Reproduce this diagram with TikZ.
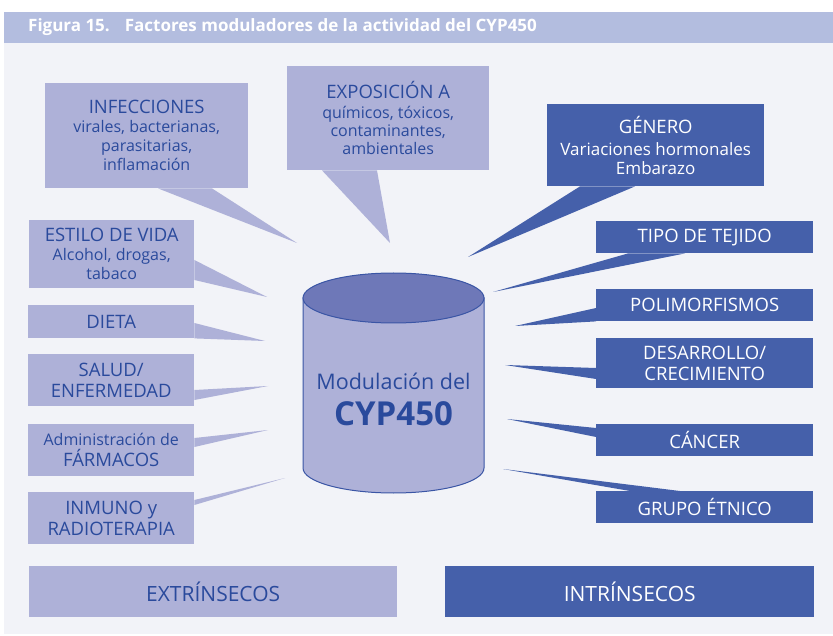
\documentclass[tikz,border=0pt]{standalone}
\usepackage{fontspec}
\setmainfont{Open Sans}
\usetikzlibrary{calc}
\definecolor{lightbox}{HTML}{AEB1D8}
\definecolor{darkbox}{HTML}{4560AA}
\definecolor{txtblue}{HTML}{2A4A9C}
\definecolor{panel}{HTML}{F2F3F8}
\definecolor{header}{HTML}{B3BDDF}
\definecolor{cyltop}{HTML}{6E78B8}
\definecolor{cylline}{HTML}{3A55A5}
\newcommand{\hd}{\fontsize{18.5}{19}\selectfont}
\newcommand{\sbt}{\fontsize{16}{19}\selectfont}
\newcommand{\sbr}{\fontsize{17}{22}\selectfont}
\begin{document}
\begin{tikzpicture}[x=1pt,y=-1pt,
  lbox/.style={fill=lightbox, text=txtblue, align=center, inner sep=0pt, anchor=north west, font=\hd},
  dbox/.style={fill=darkbox, text=white, align=center, inner sep=0pt, anchor=north west, font=\hd},
  lptr/.style={fill=lightbox},
  dptr/.style={fill=darkbox}]
\useasboundingbox (0,0) rectangle (833,636);
\fill[white] (0,0) rectangle (833,636);
\fill[panel] (4,43) rectangle (833,634);
\fill[header] (4,12) rectangle (833,43);
\node[anchor=west, text=white, font=\bfseries\fontsize{17}{19}\selectfont, inner sep=0pt] (title) at (28,27.5) {Figura 15.\hspace{15pt}Factores moduladores de la actividad del CYP450};

% tips
\coordinate (tinf) at (297,243);
\coordinate (test) at (267,297);
\coordinate (texp) at (390,243);
\coordinate (tgen) at (468,257);
\coordinate (ttipo) at (493,292);
\coordinate (tpoli) at (515,326);
\coordinate (tdes) at (505,365);
\coordinate (tcan) at (507,419);
\coordinate (tgru) at (503,469);
\coordinate (tdieta) at (265,341);
\coordinate (tsalud) at (268,386);
\coordinate (tfarm) at (268,430);
\coordinate (tinm) at (285,478);

% left boxes
\node[lbox, minimum width=203pt, minimum height=105pt] (inf) at (45,83) {INFECCIONES\\{\sbt virales, bacterianas,}\\{\sbt parasitarias,}\\{\sbt inflamación}};
\node[lbox, minimum width=165pt, minimum height=68pt] (est) at (29,220) {ESTILO DE VIDA\\{\sbt Alcohol, drogas,}\\{\sbt tabaco}};
\node[lbox, minimum width=166pt, minimum height=33pt] (dieta) at (28,305) {DIETA};
\node[lbox, minimum width=166pt, minimum height=52pt] (salud) at (28,354) {SALUD/\\[2pt]ENFERMEDAD};
\node[lbox, minimum width=166pt, minimum height=52pt] (farm) at (28,424) {{\sbt Administración de}\\[2pt]FÁRMACOS};
\node[lbox, minimum width=166pt, minimum height=52pt] (inm) at (28,492) {INMUNO y\\[2pt]RADIOTERAPIA};
\node[lbox, minimum width=202pt, minimum height=104pt] (exp) at (287,66) {EXPOSICIÓN A\\[1pt]{\sbt químicos, tóxicos,}\\[-1pt]{\sbt contaminantes,}\\[-1pt]{\sbt ambientales}};

% right boxes
\node[dbox, minimum width=217pt, minimum height=82pt] (gen) at (547,104) {GÉNERO\\[3pt]{\sbr Variaciones hormonales}\\{\sbr Embarazo}};
\node[dbox, minimum width=217pt, minimum height=32pt] (tipo) at (596,221) {TIPO DE TEJIDO};
\node[dbox, minimum width=217pt, minimum height=32pt] (poli) at (596,289) {POLIMORFISMOS};
\node[dbox, minimum width=217pt, minimum height=50pt] (des) at (596,338) {DESARROLLO/\\[2pt]CRECIMIENTO};
\node[dbox, minimum width=217pt, minimum height=32pt] (can) at (596,424) {CÁNCER};
\node[dbox, minimum width=217pt, minimum height=32pt] (gru) at (596,491) {GRUPO ÉTNICO};

% pointers
\fill[lptr] ([xshift=113pt]inf.south west) -- (tinf) -- ([xshift=167pt]inf.south west) -- cycle;
\fill[lptr] ([yshift=-40pt]est.north east) -- (test) -- ([yshift=-60pt]est.north east) -- cycle;
\fill[lptr] ([xshift=35pt]exp.south west) -- (texp) -- ([xshift=90pt]exp.south west) -- cycle;
\fill[lptr] ([yshift=-18pt]dieta.north east) -- (tdieta) -- (dieta.south east) -- cycle;
\fill[lptr] ([yshift=-36pt]salud.north east) -- (tsalud) -- ([yshift=-46pt]salud.north east) -- cycle;
\fill[lptr] ([yshift=-14pt]farm.north east) -- (tfarm) -- ([yshift=-23pt]farm.north east) -- cycle;
\fill[lptr] ([yshift=-8pt]inm.north east) -- (tinm) -- ([yshift=-13pt]inm.north east) -- cycle;
\fill[dptr] ([xshift=33pt]gen.south west) -- (tgen) -- ([xshift=88pt]gen.south west) -- cycle;
\fill[dptr] ([xshift=32pt]tipo.south west) -- (ttipo) -- ([xshift=89pt]tipo.south west) -- cycle;
\fill[dptr] ([yshift=-19pt]poli.north west) -- (tpoli) -- (poli.south west) -- cycle;
\fill[dptr] ([yshift=-30pt]des.north west) -- (tdes) -- ([yshift=-41pt]des.north west) -- cycle;
\fill[dptr] ([yshift=-4pt]can.north west) -- (tcan) -- ([yshift=-13pt]can.north west) -- cycle;
\fill[dptr] ([xshift=34pt]gru.north west) -- (tgru) -- ([xshift=84pt]gru.north west) -- cycle;

% cylinder
\filldraw[fill=lightbox, draw=cylline, line width=1pt]
  (303,298) -- (303,468) arc[start angle=180, end angle=0, x radius=90.5, y radius=25] -- (484,298) -- cycle;
\filldraw[fill=cyltop, draw=cylline, line width=1pt] (393.5,298) ellipse [x radius=90.5, y radius=25];
\node[text=txtblue, inner sep=0pt, font=\fontsize{21.5}{24}\selectfont] (cyl) at (393.5,381) {Modulación del};
\node[text=txtblue, inner sep=0pt, font=\fontsize{33}{36}\selectfont\bfseries] (cylb) at (393.5,414) {CYP450};

% bottom bars
\node[lbox, minimum width=368pt, minimum height=51pt, font=\fontsize{21}{24}\selectfont] (ext) at (29,566) {EXTRÍNSECOS};
\node[dbox, minimum width=369pt, minimum height=51pt, font=\fontsize{21}{24}\selectfont] (int) at (445,566) {INTRÍNSECOS};
\end{tikzpicture}
\end{document}
